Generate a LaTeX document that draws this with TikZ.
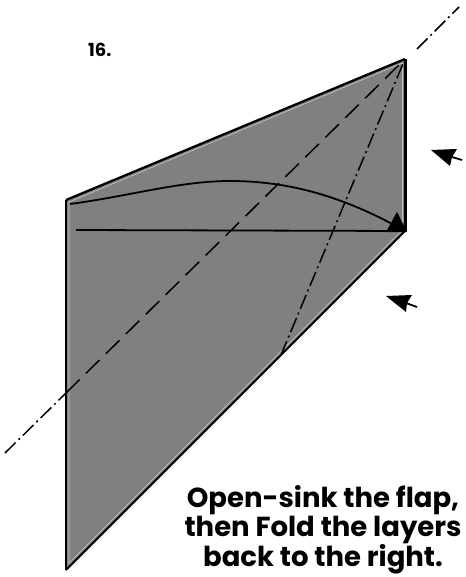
\documentclass[tikz,border=0pt]{standalone}
\usepackage{fontspec}
\setmainfont{Poppins}[BoldFont={Poppins Bold}]
\tikzset{
  outline/.style={line width=2.3pt,line join=miter,black},
  dashdot/.style={line width=1.5pt,dash pattern=on 15pt off 4pt on 2pt off 4pt},
  valley/.style={line width=1.5pt,dash pattern=on 19pt off 9pt},
  flowline/.style={line width=1.8pt},
  headfill/.style={fill=black,draw=none},
  caption/.style={font=\bfseries\fontsize{27.5}{27.5}\selectfont,align=center,inner sep=0pt,text=black}
}
\begin{document}
\begin{tikzpicture}[x=1pt,y=-1pt]
\useasboundingbox (0,0) rectangle (465,577);
\coordinate (A) at (66,200);
\coordinate (B) at (405,59);
\coordinate (C) at (405,231);
\coordinate (D) at (66,570);
\coordinate (K) at (281,355);
\coordinate (L1) at (5,453);
\coordinate (L2) at (66,393);
\coordinate (U1) at (417,49);
\coordinate (U2) at (459,7);
\fill[black!50] (A) -- (B) -- (C) -- (D) -- cycle;
\draw[black!25,line width=.7pt] (69,202) -- (402.5,63) -- (402.5,230) -- (69,563) -- cycle;
\draw[outline] (A) -- (B);
\draw[outline] (A) -- (D);
\draw[outline,line width=1.8pt] (C) -- (D);
\draw[outline,line width=3pt] (B) -- (C);
\draw[dashdot] (L1) -- (L2);
\draw[dashdot] (U1) -- (U2);
\draw[valley] (L2) -- (B);
\draw[dashdot] (K) -- (B);
\draw[flowline] (76,230) -- (C);
\draw[flowline] (70,204) .. controls (130,196) and (180,181) .. (230,181) .. controls (290,181) and (345,197) .. (C);
\fill[headfill] (397,212) -- (386,232) -- (407,232) -- cycle;
\coordinate (P1s) at (462,160);
\coordinate (P1m) at (452,157);
\draw[flowline] (P1s) -- (P1m);
\fill[headfill] (431,150) -- (457,149) -- (452,157) -- (450,166) -- cycle;
\coordinate (P2s) at (417,307);
\coordinate (P2m) at (406,303);
\draw[flowline] (P2s) -- (P2m);
\fill[headfill] (386,296) -- (412,295) -- (407,303) -- (406,312) -- cycle;
\node[font=\bfseries\fontsize{18}{20}\selectfont,anchor=west,inner sep=0pt] (num) at (88,50) {16.};
\node[caption] (cap) at (323,530) {Open-sink the flap,\\then Fold the layers\\back to the right.};
\end{tikzpicture}
\end{document}
